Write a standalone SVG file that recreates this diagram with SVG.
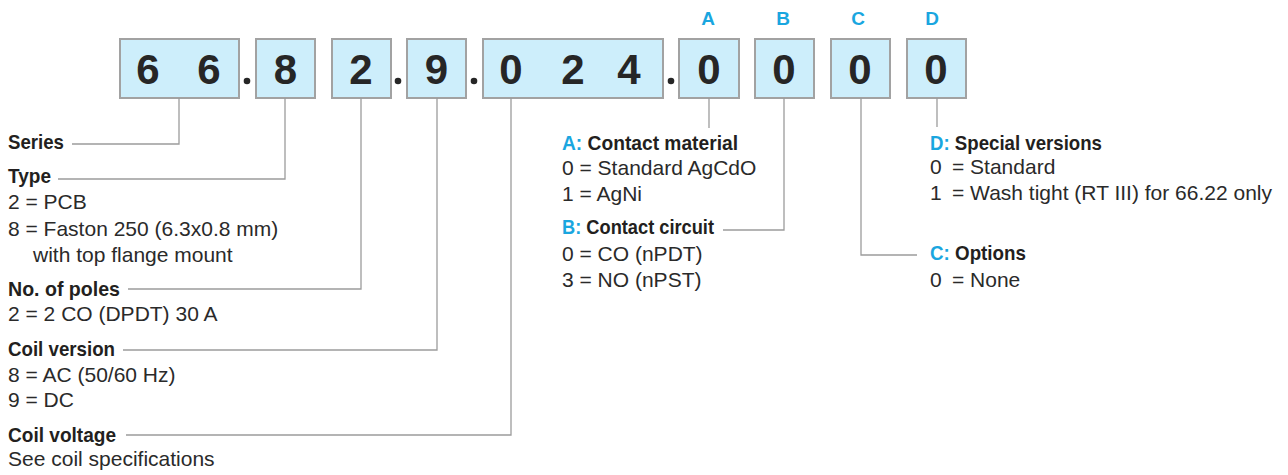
<svg xmlns="http://www.w3.org/2000/svg" width="1288" height="475" viewBox="0 0 1288 475">
  <style>
    .box { fill: #cdeefb; stroke: #a2a2a2; stroke-width: 2; }
    .dig { font-family: "Liberation Sans", Arial, sans-serif; font-weight: bold; font-size: 42px; fill: #262626; text-anchor: middle; }
    .dot { fill: #262626; }
    .lbl { font-family: "Liberation Sans", Arial, sans-serif; font-weight: bold; font-size: 19px; fill: #1aa6df; text-anchor: middle; }
    .h { font-family: "Liberation Sans", Arial, sans-serif; font-weight: bold; font-size: 20.5px; fill: #231f20; }
    .t { font-family: "Liberation Sans", Arial, sans-serif; font-size: 21px; fill: #2a2a2a; }
    .blue { fill: #1aa6df; }
    .conn { fill: none; stroke: #9c9c9c; stroke-width: 1.3; }
  </style>

  <!-- code boxes -->
  <g id="box-series">
    <rect class="box" x="120" y="39" width="119" height="59"/>
    <text class="dig" x="148" y="84">6</text>
    <text class="dig" x="209" y="84">6</text>
  </g>
  <circle class="dot" cx="247" cy="81" r="3.3"/>
  <g id="box-type">
    <rect class="box" x="256" y="39" width="59" height="59"/>
    <text class="dig" x="285.5" y="84">8</text>
  </g>
  <g id="box-poles">
    <rect class="box" x="332" y="39" width="59" height="59"/>
    <text class="dig" x="361" y="84">2</text>
  </g>
  <circle class="dot" cx="398" cy="81" r="3.3"/>
  <g id="box-coil-version">
    <rect class="box" x="407" y="39" width="59" height="59"/>
    <text class="dig" x="436.5" y="84">9</text>
  </g>
  <circle class="dot" cx="474" cy="81" r="3.3"/>
  <g id="box-coil-voltage">
    <rect class="box" x="483" y="39" width="180" height="59"/>
    <text class="dig" x="511" y="84">0</text>
    <text class="dig" x="573" y="84">2</text>
    <text class="dig" x="629" y="84">4</text>
  </g>
  <circle class="dot" cx="671" cy="81" r="3.3"/>
  <g id="box-a">
    <text class="lbl" x="708" y="25">A</text>
    <rect class="box" x="679" y="39" width="60" height="59"/>
    <text class="dig" x="709" y="84">0</text>
  </g>
  <g id="box-b">
    <text class="lbl" x="783" y="25">B</text>
    <rect class="box" x="755" y="39" width="59" height="59"/>
    <text class="dig" x="784" y="84">0</text>
  </g>
  <g id="box-c">
    <text class="lbl" x="858" y="25">C</text>
    <rect class="box" x="831" y="39" width="59" height="59"/>
    <text class="dig" x="860" y="84">0</text>
  </g>
  <g id="box-d">
    <text class="lbl" x="932" y="25">D</text>
    <rect class="box" x="907" y="39" width="59" height="59"/>
    <text class="dig" x="936" y="84">0</text>
  </g>

  <!-- connectors -->
  <g id="connectors">
    <path class="conn" d="M72 144H179V98"/>
    <path class="conn" d="M58 179H285V98"/>
    <path class="conn" d="M128 289H361V98"/>
    <path class="conn" d="M123 350H437V98"/>
    <path class="conn" d="M126 435H511V98"/>
    <path class="conn" d="M709 98V128"/>
    <path class="conn" d="M723 230H784V98"/>
    <path class="conn" d="M917 255H861V98"/>
    <path class="conn" d="M937 98V127"/>
  </g>

  <!-- legend -->
  <g id="legend-series">
    <text class="h" x="8" y="149" textLength="56" lengthAdjust="spacingAndGlyphs">Series</text>
  </g>
  <g id="legend-type">
    <text class="h" x="8" y="183" textLength="43" lengthAdjust="spacingAndGlyphs">Type</text>
    <text class="t" x="8" y="209">2 = PCB</text>
    <text class="t" x="8" y="236">8 = Faston 250 (6.3x0.8 mm)</text>
    <text class="t" x="33" y="262">with top flange mount</text>
  </g>
  <g id="legend-poles">
    <text class="h" x="8" y="296" textLength="112" lengthAdjust="spacingAndGlyphs">No. of poles</text>
    <text class="t" x="8" y="321">2 = 2 CO (DPDT) 30 A</text>
  </g>
  <g id="legend-coil-version">
    <text class="h" x="8" y="356" textLength="107" lengthAdjust="spacingAndGlyphs">Coil version</text>
    <text class="t" x="8" y="382">8 = AC (50/60 Hz)</text>
    <text class="t" x="8" y="407">9 = DC</text>
  </g>
  <g id="legend-coil-voltage">
    <text class="h" x="8" y="442" textLength="108" lengthAdjust="spacingAndGlyphs">Coil voltage</text>
    <text class="t" x="8" y="466">See coil specifications</text>
  </g>
  <g id="legend-a">
    <text class="h" x="562" y="150" textLength="176" lengthAdjust="spacingAndGlyphs"><tspan class="blue">A:</tspan> Contact material</text>
    <text class="t" x="562" y="175">0 = Standard AgCdO</text>
    <text class="t" x="562" y="201">1 = AgNi</text>
  </g>
  <g id="legend-b">
    <text class="h" x="562" y="234" textLength="152" lengthAdjust="spacingAndGlyphs"><tspan class="blue">B:</tspan> Contact circuit</text>
    <text class="t" x="562" y="261">0 = CO (nPDT)</text>
    <text class="t" x="562" y="287">3 = NO (nPST)</text>
  </g>
  <g id="legend-d">
    <text class="h" x="930" y="150" textLength="172" lengthAdjust="spacingAndGlyphs"><tspan class="blue">D:</tspan> Special versions</text>
    <text class="t" x="930" y="174">0<tspan x="952">= Standard</tspan></text>
    <text class="t" x="930" y="200">1<tspan x="952">= Wash tight (RT III) for 66.22 only</tspan></text>
  </g>
  <g id="legend-c">
    <text class="h" x="930" y="260" textLength="96" lengthAdjust="spacingAndGlyphs"><tspan class="blue">C:</tspan> Options</text>
    <text class="t" x="930" y="287">0<tspan x="952">= None</tspan></text>
  </g>
</svg>
